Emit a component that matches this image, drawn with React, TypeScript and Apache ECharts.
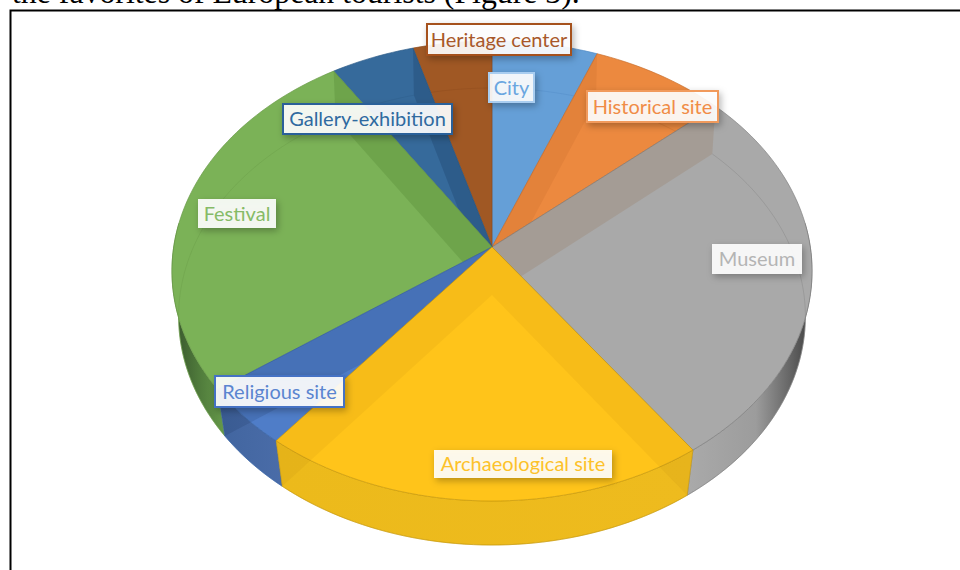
import React, { useEffect, useRef } from "react";
import * as echarts from "echarts";

// Data (share of responses, %), clockwise from 12 o'clock
const categories = ["City", "Historical site", "Museum", "Archaeological site", "Religious site", "Festival", "Gallery-exhibition", "Heritage center"];
const shares = [5.9, 7.6, 26.7, 20.5, 4.3, 25.9, 4.7, 4.4];
const heading = "the favorites of European tourists (Figure 3).";

// back-to-front paint order of the slices (indices in categories)
const paintOrder = [0, 1, 2, 7, 6, 5, 4, 3];

const faceColors = ["#659fd7", "#ec893f", "#a9a9a9", "#ffc41a", "#4f7dc8", "#7bb257", "#366a9b", "#a05824"];
const wallShades = [
  "rgba(0,0,0,0.05)", "rgba(120,40,0,0.07)", "rgba(142,89,42,0.15)", "rgba(120,70,0,0.06)",
  "rgba(0,20,50,0.11)", "rgba(20,70,0,0.13)", "rgba(0,20,50,0.16)", "rgba(0,0,0,0.05)",
];
const rimStops: [number, string][][] = [
  [[0, "#5a90c5"], [1, "#5a90c5"]],
  [[0, "#d87a35"], [1, "#d87a35"]],
  [[0, "#aaaaaa"], [0.55, "#9c9c9c"], [0.82, "#666666"], [1, "#3f3f3f"]],
  [[0, "#ecba1b"], [1, "#eebb1e"]],
  [[0, "#41659f"], [1, "#4a6ca8"]],
  [[0, "#36532c"], [0.5, "#4f7a3b"], [1, "#669a4a"]],
  [[0, "#2c5a85"], [1, "#2c5a85"]],
  [[0, "#8a4a1e"], [1, "#8a4a1e"]],
];
const edgeColors = ["#4f8ac4", "#c96f2d", "#808080", "#c99a0c", "#3a66a8", "#699a48", "#2d5c88", "#8c4a1c"];

// label boxes: left, top, width, height
const labelBoxes = [
  [489, 73, 45, 29], [587, 91, 131, 31], [712, 244, 90, 30], [434, 450, 178, 28],
  [215, 376, 129, 31], [198, 199, 78, 29], [283, 104, 169, 30], [427, 24, 144, 31],
];
const labelText = ["#6aa6e0", "#f08c46", "#b4b4b4", "#fdc22a", "#5b85d0", "#86bb66", "#2f6aa0", "#a8582a"];
const labelBorder = ["#a9cdf0", "#f19a5c", "", "", "#4472c4", "", "#2a6099", "#a5511a"];

// projection of the tilted pie: top plane and (shifted) bottom plane
const topPlane = { cx: 492, cy: 247, A: 318.3, B: 227.5, k: -0.1043 };
const bottomPlane = { cx: 492, cy: 295, A: 312, B: 226.5, k: -0.0941 };
type Plane = typeof topPlane;
const RAD = Math.PI / 180;
const project = (p: Plane, deg: number): number[] => {
  const u = Math.sin(deg * RAD);
  const v = -Math.cos(deg * RAD);
  const w = 1 + p.k * v;
  return [p.cx + (p.A * u) / w, p.cy + (p.B * v) / w];
};
const arcPoints = (p: Plane, a: number, b: number): number[][] => {
  const n = Math.max(2, Math.ceil(Math.abs(b - a) / 1.5));
  const out: number[][] = [];
  for (let i = 0; i <= n; i++) out.push(project(p, a + ((b - a) * i) / n));
  return out;
};

const total = shares.reduce((s, v) => s + v, 0);
const startAngles: number[] = [];
shares.reduce((acc, v, i) => {
  startAngles[i] = (acc / total) * 360;
  return acc + v;
}, 0);

const VIS_FROM = 84;
const VIS_TO = 276;

function renderSlice(params: any, api: any) {
  const i = api.value(0) as number;
  const s = startAngles[i];
  const e = s + (shares[i] / total) * 360;
  const children: any[] = [];
  const from = Math.max(s, VIS_FROM);
  const to = Math.min(e, VIS_TO);
  if (to > from) {
    children.push({
      type: "polygon",
      shape: { points: [...arcPoints(topPlane, from, to), ...arcPoints(bottomPlane, to, from)] },
      style: {
        fill: new echarts.graphic.LinearGradient(
          0, 0, 1, 0,
          rimStops[i].map(([offset, color]) => ({ offset, color }))
        ),
        stroke: edgeColors[i],
        lineWidth: 0.6,
      },
    });
  }
  children.push({
    type: "polygon",
    shape: { points: [[topPlane.cx, topPlane.cy], ...arcPoints(topPlane, s, e)] },
    style: { fill: faceColors[i], stroke: edgeColors[i], lineWidth: 0.7 },
  });
  const wall = (deg: number) => ({
    type: "polygon",
    shape: {
      points: [[topPlane.cx, topPlane.cy], project(topPlane, deg), project(bottomPlane, deg), [bottomPlane.cx, bottomPlane.cy]],
    },
    style: { fill: wallShades[i] },
  });
  if (s > 0 && s < 180) children.push(wall(s));
  if (e > 180 && e < 359.5) children.push(wall(e));
  children.push({
    type: "polyline",
    shape: { points: arcPoints(bottomPlane, s, e) },
    style: { fill: "none", stroke: edgeColors[i], lineWidth: 0.7, opacity: 0.55 },
  });
  return { type: "group", children };
}

function renderLabel(params: any, api: any) {
  const i = api.value(0) as number;
  const [x, y, w, h] = labelBoxes[i];
  const border = labelBorder[i];
  return {
    type: "group",
    children: [
      {
        type: "rect",
        shape: { x, y, width: w, height: h },
        style: {
          fill: "rgba(255,255,255,0.9)",
          stroke: border || "rgba(255,255,255,0.9)",
          lineWidth: border ? 2 : 0,
          shadowBlur: 7,
          shadowOffsetX: 2,
          shadowOffsetY: 3,
          shadowColor: "rgba(0,0,0,0.3)",
        },
      },
      {
        type: "text",
        x: x + w / 2,
        y: y + h / 2 - 1,
        style: {
          text: categories[i],
          fill: labelText[i],
          font: '20px Lato, "Open Sans", sans-serif',
          align: "center",
          verticalAlign: "middle",
        },
      },
    ],
  };
}

export default function App() {
  const ref = useRef<HTMLDivElement>(null);
  useEffect(() => {
    document.body.style.margin = "0";
    const chart = echarts.init(ref.current!, undefined, { renderer: "svg" });
    chart.setOption({
      animation: false,
      backgroundColor: "#ffffff",
      graphic: [
        {
          type: "text",
          z: 20,
          x: 12,
          y: 8,
          style: {
            text: heading,
            fill: "#000000",
            font: '31.8px "Liberation Serif", serif',
            verticalAlign: "bottom",
            align: "left",
          },
        },
        {
          type: "polyline",
          z: 20,
          shape: { points: [[10.5, 570], [10.5, 10.5], [960, 10.5]] },
          style: { fill: "none", stroke: "#000000", lineWidth: 2 },
        },
      ],
      series: [
        {
          type: "custom",
          coordinateSystem: "none",
          z: 2,
          silent: true,
          clip: false,
          data: paintOrder.map((i) => [i]),
          encode: { x: 0 },
          renderItem: renderSlice,
        },
        {
          type: "custom",
          coordinateSystem: "none",
          z: 5,
          silent: true,
          clip: false,
          data: categories.map((_, i) => [i]),
          renderItem: renderLabel,
        },
      ],
    });
    return () => chart.dispose();
  }, []);
  return <div ref={ref} style={{ position: "absolute", left: 0, top: 0, width: 960, height: 570 }} />;
}
